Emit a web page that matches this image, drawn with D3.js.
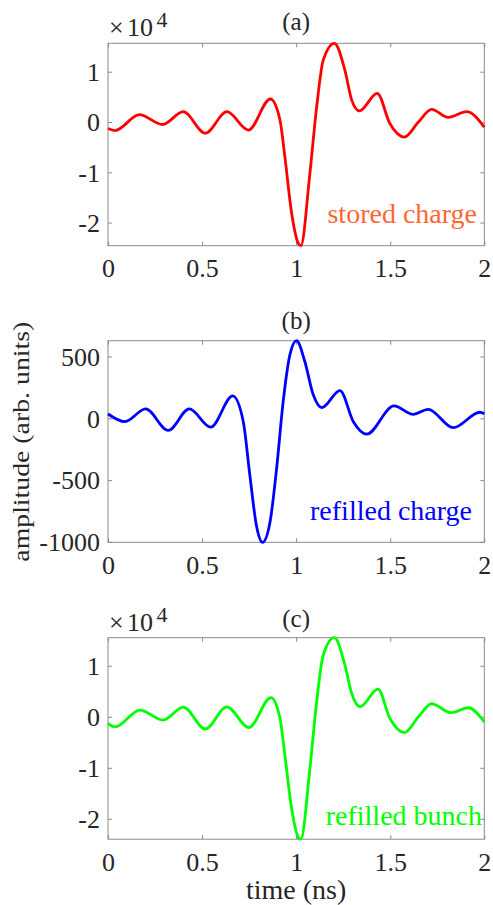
<!DOCTYPE html>
<html>
<head>
<meta charset="utf-8">
<script src="https://cdn.jsdelivr.net/npm/d3@7"></script>
<style>
    body { margin: 0; background: #fff; }
    text { font-family: "Liberation Serif", "Times New Roman", serif; fill: #262626; }
</style>
</head>
<body>
<div id="chart"></div>
<script>
// time axis shared by the three panels (ns)
var timeTicks = [0, 0.5, 1, 1.5, 2];

// (a) stored charge, arb. units
var storedTime = [0, 0.037, 0.167, 0.29, 0.40, 0.517, 0.632, 0.746, 0.863, 0.914, 0.94, 0.976, 1.011, 1.025,
    1.073, 1.109, 1.144, 1.203, 1.259, 1.295, 1.336, 1.431, 1.498, 1.575, 1.65, 1.72, 1.808, 1.906, 2.0];
var storedCharge = [-1300, -1700, 1450, -500, 2050, -2250, 2050, -1600, 4570, 400, -6900, -18150, -24100, -24600,
    -10200, 3000, 12300, 15650, 10300, 4400, 2200, 5700, -300, -3000, 0, 2500, 900, 2050, -1050];

// (b) refilled charge, arb. units
var refilledTime = [0, 0.09, 0.2, 0.32, 0.432, 0.546, 0.663, 0.719, 0.754, 0.789, 0.821, 0.861, 0.896, 0.931,
    0.967, 1.002, 1.046, 1.091, 1.136, 1.233, 1.304, 1.375, 1.52, 1.622, 1.702, 1.835, 1.977, 2.0];
var refilledCharge = [35, -27, 76, -98, 76, -71, 181, -27, -461, -868, -1003, -840, -407, 135,
    515, 628, 460, 190, 86, 224, -27, -128, 100, 32, 73, -76, 49, 37];

// (c) refilled bunch, arb. units
var bunchTime = [0, 0.037, 0.17, 0.294, 0.40, 0.517, 0.631, 0.749, 0.866, 0.914, 0.94, 0.976, 1.011, 1.025,
    1.073, 1.109, 1.144, 1.203, 1.259, 1.295, 1.339, 1.435, 1.498, 1.575, 1.65, 1.72, 1.823, 1.915, 2.0];
var refilledBunch = [-1300, -2000, 1300, -650, 1900, -2400, 1950, -2100, 3750, -300, -7500, -18000, -23600, -24000,
    -10150, 2950, 12100, 15500, 10150, 4600, 1960, 5400, -300, -3100, 0, 2550, 800, 1770, -1000];

var ticksE4 = [-20000, -10000, 0, 10000];
var ticksB = [-1000, -500, 0, 500];

var WIDTH = 493, HEIGHT = 905;
var AXIS_COLOR = '#8a8a8a';
var FONT = '"Liberation Serif", "Times New Roman", serif';

var svg = d3.select('#chart').append('svg')
    .attr('width', WIDTH)
    .attr('height', HEIGHT);

svg.append('rect').attr('width', WIDTH).attr('height', HEIGHT).attr('fill', '#fff');

var left = 108, right = 484.3;

function drawPanel(p) {
    var g = svg.append('g');

    var x = d3.scaleLinear().domain([0, 2]).range([left, right]);
    var y = d3.scaleLinear().domain(d3.extent(p.values)).range([p.bottom, p.top]);

    var fmt = p.exponent ? function (d) { return d / 1e4; } : function (d) { return d; };

    var styleAxis = function (sel) {
        sel.attr('font-family', FONT);
        sel.select('.domain').remove();
        sel.selectAll('.tick line').attr('stroke', AXIS_COLOR);
        sel.selectAll('.tick text')
            .attr('fill', '#262626')
            .style('font-size', '26px')
            .style('font-family', FONT);
    };

    g.append('g')
        .attr('transform', 'translate(0,' + p.bottom + ')')
        .call(d3.axisBottom(x).tickValues(timeTicks).tickSizeInner(-4).tickSizeOuter(0).tickPadding(13).tickFormat(d3.format('')))
        .call(styleAxis);

    g.append('g')
        .attr('transform', 'translate(0,' + p.top + ')')
        .call(d3.axisTop(x).tickValues(timeTicks).tickSizeInner(-4).tickSizeOuter(0).tickFormat(''))
        .call(styleAxis);

    g.append('g')
        .attr('transform', 'translate(' + left + ',0)')
        .call(d3.axisLeft(y).tickValues(p.ticks).tickSizeInner(-4).tickSizeOuter(0).tickPadding(8).tickFormat(fmt))
        .call(styleAxis)
        .selectAll('.tick text').attr('dy', '0.34em');

    g.append('g')
        .attr('transform', 'translate(' + right + ',0)')
        .call(d3.axisRight(y).tickValues(p.ticks).tickSizeInner(-4).tickSizeOuter(0).tickFormat(''))
        .call(styleAxis);

    g.append('rect')
        .attr('x', left)
        .attr('y', p.top)
        .attr('width', right - left)
        .attr('height', p.bottom - p.top)
        .attr('fill', 'none')
        .attr('stroke', AXIS_COLOR)
        .attr('stroke-width', 1);

    var line = d3.line()
        .x(function (d, i) { return x(p.time[i]); })
        .y(function (d) { return y(d); })
        .curve(d3.curveMonotoneX);

    g.append('path')
        .datum(p.values)
        .attr('d', line)
        .attr('fill', 'none')
        .attr('stroke', p.color)
        .attr('stroke-width', 2.8)
        .attr('stroke-linejoin', 'round');

    // panel title
    g.append('text')
        .attr('x', (left + right) / 2)
        .attr('y', p.titleY)
        .attr('text-anchor', 'middle')
        .style('font-size', '25px')
        .text(p.title);

    if (p.exponent) {
        var ex = g.append('text')
            .attr('y', p.top - 7)
            .style('font-size', '26px');
        ex.append('tspan').attr('x', 109).text('\u00d7');
        ex.append('tspan').attr('x', 127).text('10');
        ex.append('tspan').attr('x', 156.5).attr('dy', -9).style('font-size', '22px').text('4');
    }

    // label inside the plot
    g.append('text')
        .attr('x', p.noteX)
        .attr('y', p.noteY)
        .attr('text-anchor', 'end')
        .style('font-size', '28px')
        .style('fill', p.noteColor)
        .text(p.note);
}

drawPanel({
    top: 43.3, bottom: 245.7, time: storedTime, values: storedCharge, ticks: ticksE4, exponent: true,
    color: '#ff0000', title: '(a)', titleY: 30, note: 'stored charge', noteColor: '#ff6633', noteX: 477, noteY: 223
});

drawPanel({
    top: 340.7, bottom: 542.3, time: refilledTime, values: refilledCharge, ticks: ticksB, exponent: false,
    color: '#0000ff', title: '(b)', titleY: 328.5, note: 'refilled charge', noteColor: '#0000ff', noteX: 472, noteY: 520
});

drawPanel({
    top: 637.7, bottom: 839.2, time: bunchTime, values: refilledBunch, ticks: ticksE4, exponent: true,
    color: '#00ff00', title: '(c)', titleY: 626.5, note: 'refilled bunch', noteColor: '#00ff00', noteX: 482, noteY: 825
});

// axis titles
svg.append('text')
    .attr('transform', 'translate(29,441.7) rotate(-90)')
    .attr('text-anchor', 'middle')
    .attr('textLength', 240)
    .attr('lengthAdjust', 'spacingAndGlyphs')
    .style('font-size', '23px')
    .text('amplitude (arb. units)');

svg.append('text')
    .attr('x', (left + right) / 2)
    .attr('y', 899)
    .attr('text-anchor', 'middle')
    .style('font-size', '28px')
    .text('time (ns)');
</script>
</body>
</html>
